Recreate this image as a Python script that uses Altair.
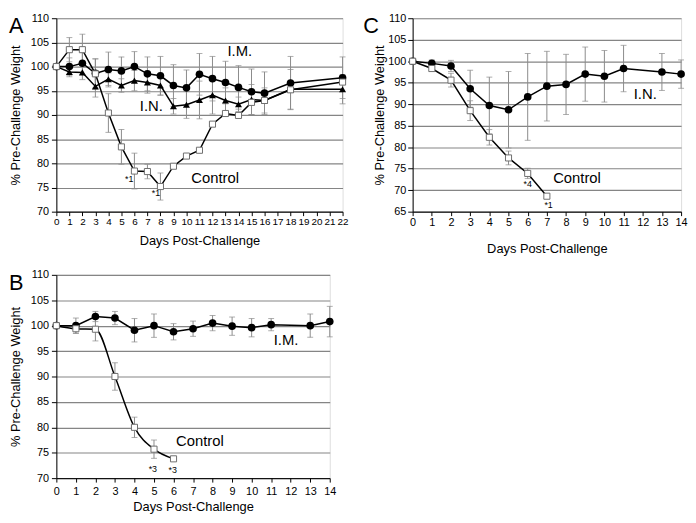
import altair as alt
import pandas as pd

# ---------------- Panel A ----------------
a_days = [0, 1, 2, 3, 4, 5, 6, 7, 8, 9, 10, 11, 12, 13, 14, 15, 16, 18, 22]
a_im = [100, 100, 100.7, 98.6, 99.4, 99.1, 100, 98.5, 98.1, 96.1, 95.6, 98.4, 97.5, 96.7, 95.7, 94.8, 94.5, 96.6, 97.7]
a_im_err = [0, 1.8, 2.3, 3.0, 3.6, 2.9, 3.1, 3.5, 4.0, 4.3, 3.7, 4.3, 4.6, 4.4, 4.5, 4.7, 4.4, 5.5, 4.3]
a_in = [100, 98.9, 98.8, 95.9, 97.4, 96.1, 97.1, 96.7, 96.1, 91.8, 92.1, 93.1, 94.1, 93.0, 92.2, 93.2, 93.0, 95.3, 95.3]
a_in_err = [0, 1.0, 1.5, 2.2, 1.3, 1.4, 2.1, 2.2, 2.0, 1.6, 2.8, 3.9, 3.9, 2.6, 1.5, 3.1, 2.6, 4.1, 3.0]
a_ctrl = [100, 103.5, 103.5, 98.5, 90.4, 83.4, 78.4, 78.3, 75.2, 79.4, 81.5, 82.7, 88.1, 90.3, 89.9, 92.6, 93.0, 95.2, 96.8]
a_ctrl_err = [0, 2.5, 3.2, 3.1, 4.0, 3.6, 3.7, 1.5, 2.8, 0.4, 0.3, 0.3, 0.4, 0.3, 0.3, 0.5, 0.5, 0.5, 0.5]
a_text = ["I.M.", "I.N.", "Control"]
a_text_x = [14.1, 7.3, 12.2]
a_text_y = [103.3, 91.9, 77.0]
a_note = ["*1", "*1"]
a_note_x = [5.6, 7.65]
a_note_y = [76.8, 73.9]

# ---------------- Panel C ----------------
c_days = [0, 1, 2, 3, 4, 5, 6, 7, 8, 9, 10, 11, 13, 14]
c_in = [100, 99.5, 98.9, 93.6, 89.7, 88.7, 91.7, 94.2, 94.6, 97.0, 96.5, 98.3, 97.5, 97.0]
c_in_err = [0, 0.8, 1.3, 4.3, 6.6, 8.9, 10.1, 8.1, 7.0, 6.3, 6.0, 5.4, 4.3, 3.3]
c_ctrl_days = [0, 1, 2, 3, 4, 5, 6, 7]
c_ctrl = [100, 98.3, 95.6, 88.5, 82.3, 77.5, 73.9, 68.6]
c_ctrl_err = [0, 0.6, 1.6, 2.3, 1.8, 1.6, 1.2, 0]
c_text = ["I.N.", "Control"]
c_text_x = [12.13, 8.57]
c_text_y = [92.3, 72.9]
c_note = ["*4", "*1"]
c_note_x = [6.0, 7.09]
c_note_y = [71.5, 66.6]

# ---------------- Panel B ----------------
b_days = [0, 1, 2, 3, 4, 5, 6, 7, 8, 9, 10, 11, 13, 14]
b_im = [100, 100, 101.8, 101.5, 99.1, 100, 98.8, 99.4, 100.5, 99.9, 99.6, 100.2, 100, 100.8]
b_im_err = [0, 1.5, 1.0, 1.3, 2.3, 2.3, 1.6, 1.5, 1.5, 1.8, 1.8, 1.2, 2.3, 3.0]
b_ctrl_days = [0, 1, 2, 3, 4, 5, 6]
b_ctrl = [100, 99.4, 99.3, 90, 80, 75.7, 73.8]
b_ctrl_err = [0, 0.9, 2.3, 2.7, 2.0, 1.8, 0]
b_text = ["I.M.", "Control"]
b_text_x = [11.76, 7.35]
b_text_y = [97.2, 77.3]
b_note = ["*3", "*3"]
b_note_x = [4.94, 5.96]
b_note_y = [71.7, 71.5]

FONT = "Liberation Sans"
GRID = "#858585"
ERR = "#8a8a8a"


def series_df(days, vals, errs, name):
    return pd.DataFrame({
        "day": days, "val": vals,
        "lo": [v - e for v, e in zip(vals, errs)],
        "hi": [v + e for v, e in zip(vals, errs)],
        "err": errs, "series": name,
    })


def panel(series, xmax, ymin, ymax, width, height, texts, notes, letter,
          letter_x, letter_y, y_title_pad, y_label_pad, x_label_pad, x_title_pad,
          x_label_size=11):
    xs = alt.Scale(domain=[0, xmax], nice=False, zero=False)
    ys = alt.Scale(domain=[ymin, ymax], nice=False, zero=False)
    xax = alt.Axis(values=list(range(0, xmax + 1)), grid=False, tickSize=4,
                   labelOverlap=False, labelFlush=False, labelBound=False,
                   labelPadding=x_label_pad, titlePadding=x_title_pad,
                   title="Days Post-Challenge", labelFontSize=x_label_size, titleFontSize=13,
                   titleFontWeight="normal", labelColor="black", titleColor="black",
                   domainColor="black", tickColor="black", labelFont=FONT, titleFont=FONT)
    yax = alt.Axis(values=list(range(ymin, ymax + 1, 5)), grid=True, gridColor=GRID,
                   gridWidth=1.2, tickSize=5, labelPadding=y_label_pad, labelOverlap=False,
                   labelFlush=False, titlePadding=y_title_pad, title="% Pre-Challenge Weight",
                   labelFontSize=11, titleFontSize=13, titleFontWeight="normal",
                   labelColor="black", titleColor="black", domainColor="black",
                   tickColor="black", labelFont=FONT, titleFont=FONT)

    def X(f):
        return alt.X(f, type="quantitative", scale=xs, axis=xax)

    def Y(f):
        return alt.Y(f, type="quantitative", scale=ys, axis=yax)

    layers = []
    all_df = pd.concat([s["df"] for s in series])
    errdf = all_df[all_df["err"] > 0]
    base_err = alt.Chart(errdf)
    layers.append(base_err.mark_rule(color=ERR, strokeWidth=1).encode(
        x=X("day"), y=Y("lo"), y2="hi"))
    layers.append(base_err.mark_tick(orient="horizontal", size=6, thickness=1, color=ERR).encode(
        x=X("day"), y=Y("hi")))
    layers.append(base_err.mark_tick(orient="horizontal", size=6, thickness=1, color=ERR).encode(
        x=X("day"), y=Y("lo")))
    for s in series:
        layers.append(alt.Chart(s["df"]).mark_line(
            color="black", strokeWidth=1.5, interpolate=s.get("interp", "linear")
        ).encode(x=X("day"), y=Y("val")))
    for s in series:
        if s["shape"] == "square":
            m = alt.Chart(s["df"]).mark_point(shape="square", filled=False, fill="white",
                                                fillOpacity=1, stroke="#6e6e6e",
                                                strokeWidth=1, size=38, opacity=1)
        elif s["shape"] == "circle":
            m = alt.Chart(s["df"]).mark_point(shape="circle", filled=True, color="black",
                                                size=60, opacity=1)
        else:
            m = alt.Chart(s["df"]).mark_point(shape="triangle-up", filled=True,
                                                color="black", size=50, opacity=1)
        layers.append(m.encode(x=X("day"), y=Y("val")))
    tdf = pd.DataFrame(texts)
    layers.append(alt.Chart(tdf).mark_text(fontSize=15, font=FONT, color="black",
                                           align="center", baseline="middle").encode(
        x=X("x"), y=Y("y"), text="t:N"))
    ndf = pd.DataFrame(notes)
    layers.append(alt.Chart(ndf).mark_text(fontSize=9, font=FONT, color="black",
                                           align="center", baseline="middle").encode(
        x=X("x"), y=Y("y"), text="t:N"))
    layers.append(alt.Chart(pd.DataFrame({"t": [letter]})).mark_text(
        fontSize=22, font=FONT, color="black", align="left", baseline="top").encode(
        x=alt.value(letter_x), y=alt.value(letter_y), text="t:N"))
    return alt.layer(*layers).properties(width=width, height=height)


chart_a = panel(
    [
        {"df": series_df(a_days, a_im, a_im_err, "I.M."), "shape": "circle"},
        {"df": series_df(a_days, a_in, a_in_err, "I.N."), "shape": "triangle"},
        {"df": series_df(a_days, a_ctrl, a_ctrl_err, "Control"), "shape": "square"},
    ],
    22, 70, 110, 290, 196,
    {"t": a_text, "x": a_text_x, "y": a_text_y},
    {"t": a_note, "x": a_note_x, "y": a_note_y},
    "A", -48, -2, 8, 3, 1.5, 8, 10,
)

chart_c = panel(
    [
        {"df": series_df(c_days, c_in, c_in_err, "I.N."), "shape": "circle"},
        {"df": series_df(c_ctrl_days, c_ctrl, c_ctrl_err, "Control"), "shape": "square"},
    ],
    14, 65, 110, 272, 196,
    {"t": c_text, "x": c_text_x, "y": c_text_y},
    {"t": c_note, "x": c_note_x, "y": c_note_y},
    "C", -50, -2, 1, 2, 1.5, 15,
)

chart_b = panel(
    [
        {"df": series_df(b_days, b_im, b_im_err, "I.M."), "shape": "circle"},
        {"df": series_df(b_ctrl_days, b_ctrl, b_ctrl_err, "Control"), "shape": "square",
         "interp": "monotone"},
    ],
    14, 70, 110, 277, 206,
    {"t": b_text, "x": b_text_x, "y": b_text_y},
    {"t": b_note, "x": b_note_x, "y": b_note_y},
    "B", -48, -2, 8, 3, 4, 3.5,
)

chart = alt.concat(chart_a, chart_c, chart_b, columns=2,
                   spacing={"row": 12, "column": 13}, align="each").properties(
    padding=0
).configure_view(stroke="#c4c4c4", strokeWidth=1).configure(font=FONT)

chart.save("out.html", embed_options={"renderer": "svg", "actions": False})
